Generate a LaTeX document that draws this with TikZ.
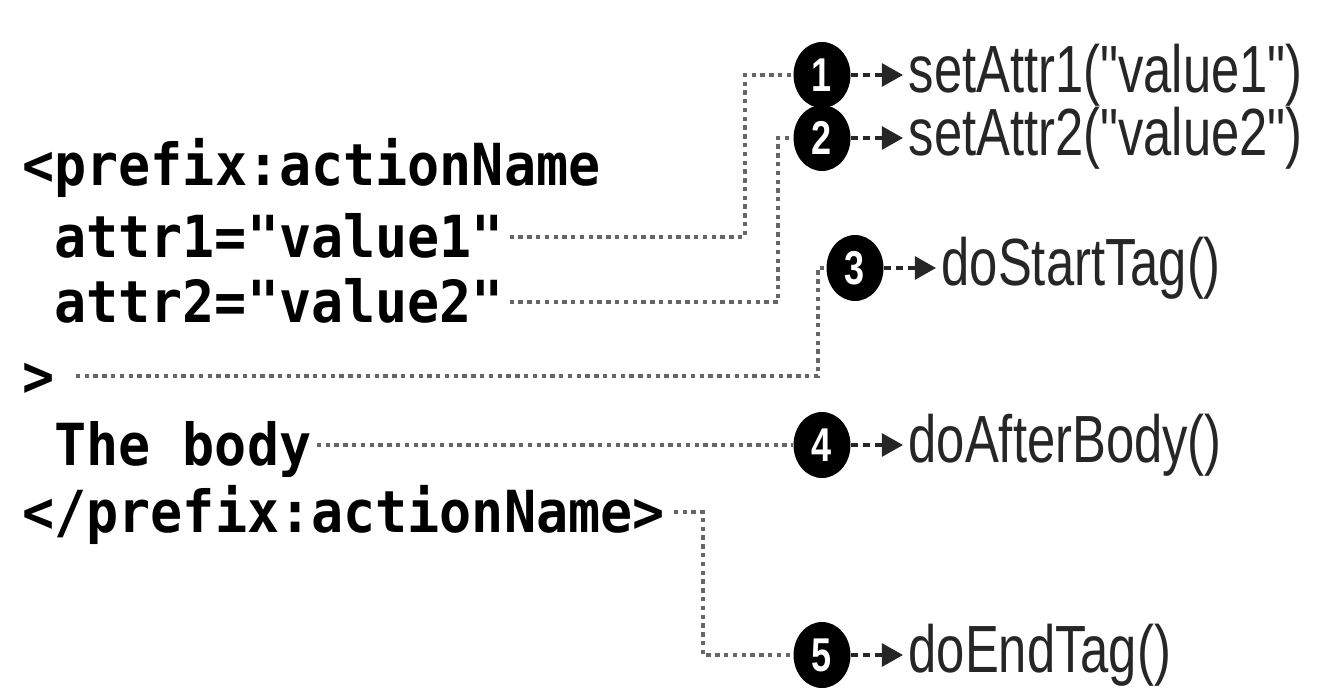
\documentclass[tikz,border=0pt]{standalone}
\usepackage{fontspec}
\newfontfamily\codefont[FakeStretch=0.92]{DejaVu Sans Mono}
\newfontfamily\callfont[FakeStretch=0.76]{Liberation Sans}
\usetikzlibrary{shapes.geometric,arrows.meta}

\begin{document}
\begin{tikzpicture}[
  x=0.02cm, y=-0.02cm,
  code/.style={anchor=west, inner sep=0pt, text height=23pt, text depth=0pt,
    font=\codefont\bfseries\fontsize{33}{33}\selectfont},
  callout/.style={ellipse, fill=black, inner sep=0pt, minimum width=1.14cm, minimum height=1.32cm,
    text=white, font=\callfont\bfseries\fontsize{27}{27}\selectfont},
  method/.style={anchor=west, inner xsep=3pt, inner ysep=0pt, text=black!85,
    font=\callfont\fontsize{38}{38}\selectfont},
  link/.style={draw=black!60, line width=2pt, dash pattern=on 2.5pt off 2.5pt},
  call/.style={draw=black!85, line width=2pt, dash pattern=on 4pt off 3pt,
    -{Triangle[length=12pt,width=13pt]}}
]
  \useasboundingbox (0,0) rectangle (1327,689);

  \node[code] (open)  at (22,165) {<prefix:actionName};
  \node[code] (attr1) at (54,237) {attr1="value1"};
  \node[code] (attr2) at (54,302) {attr2="value2"};
  \node[code] (close) at (22,376) {>};
  \node[code] (body)  at (54,445) {The body};
  \node[code] (end)   at (22,512) {</prefix:actionName>};

  \node[callout] (c1) at (822, 75) {1};
  \node[callout] (c2) at (822,138) {2};
  \node[callout] (c3) at (855,268) {3};
  \node[callout] (c4) at (822,445) {4};
  \node[callout] (c5) at (822,655) {5};

  \node[method] (m1) at (903, 75) {setAttr1("value1")};
  \node[method] (m2) at (903,138) {setAttr2("value2")};
  \node[method] (m3) at (936,268) {doStartTag()};
  \node[method] (m4) at (903,445) {doAfterBody()};
  \node[method] (m5) at (903,655) {doEndTag()};

  \coordinate (k1) at (745, 75);
  \coordinate (k2) at (778,138);
  \coordinate (k3) at (818,268);
  \coordinate (k5) at (703,655);

  \draw[link, shorten <=3pt] (attr1.east) -| (k1) -- (c1);
  \draw[link, shorten <=3pt] (attr2.east) -| (k2) -- (c2);
  \draw[link, shorten <=12pt] (close.east) -| (k3) -- (c3);
  \draw[link, shorten <=3pt] (body.east) -- (c4);
  \draw[link, shorten <=5pt] (end.east) -| (k5) -- (c5);

  \draw[call] (c1) -- (m1);
  \draw[call] (c2) -- (m2);
  \draw[call] (c3) -- (m3);
  \draw[call] (c4) -- (m4);
  \draw[call] (c5) -- (m5);
\end{tikzpicture}
\end{document}
